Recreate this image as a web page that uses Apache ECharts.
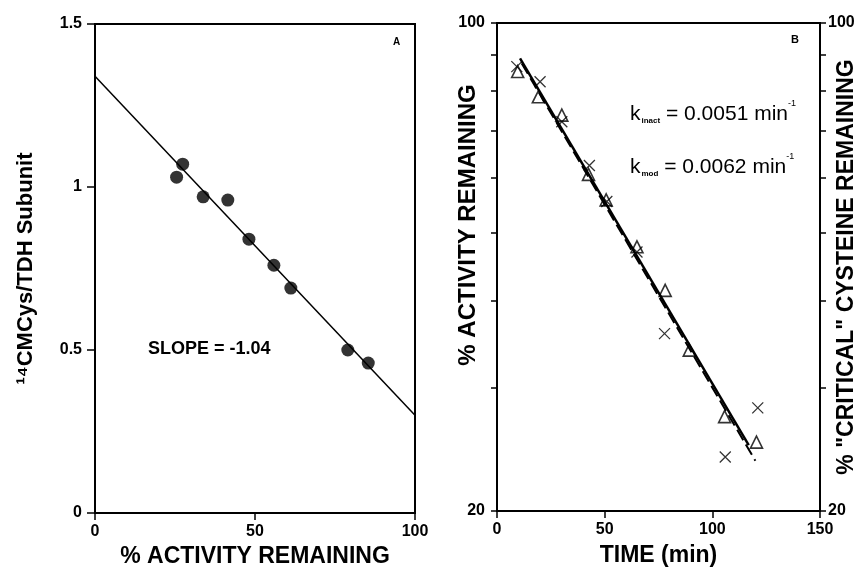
<!DOCTYPE html>
<html><head><meta charset="utf-8">
<script src="https://cdn.jsdelivr.net/npm/echarts@6/dist/echarts.min.js"></script>
<style>html,body{margin:0;padding:0;background:#fff}#c{width:859px;height:567px}</style>
</head><body><div id="c"></div>
<script>
// Panel A
const aActivity = [25.5, 27.4, 33.8, 41.5, 48.1, 55.9, 61.2, 79.0, 85.4];
const aCMCys   = [1.03, 1.07, 0.97, 0.96, 0.84, 0.76, 0.69, 0.50, 0.46];
const aFitX = [0, 100];
const aFitY = [1.34, 0.30];
const aXTicks = [0, 50, 100];
const aYTicks = [0, 0.5, 1, 1.5];
// Panel B
const triTime = [9.6, 19.2, 30.1, 42.5, 50.7, 65.0, 78.1, 89.3, 105.7, 120.5];
const triActivity = [85.2, 78.4, 73.8, 60.7, 55.8, 47.8, 41.4, 34.0, 27.3, 25.1];
const crossTime = [9.2, 20.0, 30.1, 42.9, 51.0, 65.0, 77.8, 106.0, 121.1];
const crossCys = [86.6, 82.4, 72.2, 62.5, 55.5, 47.0, 35.9, 23.9, 28.1];
const bSolidX = [10.7, 116.9];
const bSolidY = [89.0, 24.85];
const bDashX = [11.5, 120.0];
const bDashY = [87.5, 23.6];
const bXTicks = [0, 50, 100, 150];
const bYTicks = [20, 30, 40, 50, 60, 70, 80, 90, 100];
const bYLabels = [20, 100];

const FONT = 'Liberation Sans';
const zip = (a, b) => a.map((v, i) => [v, b[i]]);
const tickLbl = {fontFamily: FONT, fontWeight: 'bold', fontSize: 16, color: '#000'};
const axLine = {show: true, lineStyle: {color: '#000', width: 2}};
const nameStyle = {fontFamily: FONT, fontWeight: 'bold', fontSize: 23, color: '#000'};

const richK = {
  k: {fontFamily: FONT, fontSize: 21, fill: '#000', lineHeight: 26, verticalAlign: 'bottom'},
  s: {fontFamily: FONT, fontSize: 8, fontWeight: 'bold', fill: '#000', verticalAlign: 'bottom', padding: [0, 0, 0, 1]},
  t: {fontFamily: FONT, fontSize: 21, fill: '#000', lineHeight: 26, verticalAlign: 'bottom'},
  p: {fontFamily: FONT, fontSize: 9, fill: '#000', verticalAlign: 'top'}
};

const chart = echarts.init(document.getElementById('c'));
chart.setOption({
  animation: false,
  backgroundColor: '#fff',
  grid: [
    {left: 95, right: 444, top: 24, bottom: 54, show: true, borderColor: '#000', borderWidth: 2, containLabel: false, outerBoundsMode: 'none'},
    {left: 497, right: 39, top: 23, bottom: 56, show: true, borderColor: '#000', borderWidth: 2, containLabel: false, outerBoundsMode: 'none'}
  ],
  xAxis: [
    {gridIndex: 0, type: 'value', min: 0, max: 100, interval: 50,
     axisLine: axLine, splitLine: {show: false},
     axisTick: {show: true, inside: false, length: 7, lineStyle: {color: '#000', width: 1.5}},
     axisLabel: Object.assign({margin: 11}, tickLbl),
     name: '% ACTIVITY REMAINING', nameLocation: 'middle', nameGap: 32, nameMoveOverlap: false, nameTextStyle: nameStyle},
    {gridIndex: 1, type: 'value', min: 0, max: 150, interval: 50,
     axisLine: axLine, splitLine: {show: false},
     axisTick: {show: true, inside: false, length: 7, lineStyle: {color: '#000', width: 1.5}},
     axisLabel: Object.assign({margin: 11}, tickLbl),
     name: 'TIME (min)', nameLocation: 'middle', nameGap: 33, nameMoveOverlap: false, nameTextStyle: nameStyle}
  ],
  yAxis: [
    {gridIndex: 0, type: 'value', min: 0, max: 1.5, interval: 0.5,
     axisLine: axLine, splitLine: {show: false},
     axisTick: {show: true, inside: false, length: 8, lineStyle: {color: '#000', width: 1.5}},
     axisLabel: Object.assign({margin: 13}, tickLbl),
     name: '¹⁴CMCys/TDH Subunit', nameLocation: 'middle', nameGap: 58, nameMoveOverlap: false,
     nameTextStyle: Object.assign({}, nameStyle, {fontSize: 22})},
    {gridIndex: 1, type: 'log', logBase: 10, min: 20, max: 100, position: 'left',
     axisLine: axLine, splitLine: {show: false}, minorTick: {show: false},
     axisTick: {show: true, inside: false, length: 6, customValues: bYTicks, lineStyle: {color: '#000', width: 1.5}},
     axisLabel: Object.assign({margin: 12, customValues: bYLabels}, tickLbl),
     name: '% ACTIVITY REMAINING', nameLocation: 'middle', nameGap: 17, nameMoveOverlap: false,
     nameTextStyle: Object.assign({}, nameStyle, {fontSize: 24, padding: [0, 0, 0, 84]})},
    {gridIndex: 1, type: 'log', logBase: 10, min: 20, max: 100, position: 'right',
     axisLine: axLine, splitLine: {show: false}, minorTick: {show: false},
     axisTick: {show: true, inside: false, length: 6, customValues: bYTicks, lineStyle: {color: '#000', width: 1.5}},
     axisLabel: Object.assign({margin: 8, customValues: bYLabels}, tickLbl),
     name: '% "CRITICAL" CYSTEINE REMAINING', nameLocation: 'middle', nameGap: 15, nameMoveOverlap: false,
     nameTextStyle: Object.assign({}, nameStyle, {fontSize: 23})}
  ],
  series: [
    {type: 'line', xAxisIndex: 0, yAxisIndex: 0, data: zip(aFitX, aFitY), symbol: 'none',
     lineStyle: {color: '#000', width: 1.5}, silent: true},
    {type: 'scatter', xAxisIndex: 0, yAxisIndex: 0, data: zip(aActivity, aCMCys), symbol: 'circle', symbolSize: 13,
     itemStyle: {color: '#000'}},
    {type: 'line', xAxisIndex: 1, yAxisIndex: 1, data: zip(bDashX, bDashY), symbol: 'none',
     lineStyle: {color: '#000', width: 2, type: [12, 5]}},
    {type: 'line', xAxisIndex: 1, yAxisIndex: 1, data: zip(bSolidX, bSolidY), symbol: 'none',
     lineStyle: {color: '#000', width: 2.5}},
    {type: 'scatter', xAxisIndex: 1, yAxisIndex: 1, data: zip(triTime, triActivity), symbol: 'triangle', symbolSize: 12,
     itemStyle: {color: 'rgba(255,255,255,0)', borderColor: '#000', borderWidth: 1.6}},
    {type: 'scatter', xAxisIndex: 1, yAxisIndex: 1, data: zip(crossTime, crossCys),
     symbol: 'path://M0,0L10,10M10,0L0,10', symbolSize: 11,
     itemStyle: {color: 'rgba(255,255,255,0)', borderColor: '#000', borderWidth: 1.3}}
  ],
  graphic: [
    {type: 'text', left: 148, top: 340, style: {text: 'SLOPE = -1.04', font: 'bold 18px "Liberation Sans"', fill: '#000'}},
    {type: 'text', left: 393, top: 37, style: {text: 'A', font: 'bold 10px "Liberation Sans"', fill: '#000'}},
    {type: 'text', left: 791, top: 34, style: {text: 'B', font: 'bold 11px "Liberation Sans"', fill: '#000'}},
    {type: 'text', left: 630, top: 99, style: {text: '{k|k}{s|inact}{t| = 0.0051 min}{p|-1}', fill: '#000', rich: richK}},
    {type: 'text', left: 630, top: 152, style: {text: '{k|k}{s|mod}{t| = 0.0062 min}{p|-1}', fill: '#000', rich: richK}}
  ]
});
</script></body></html>
